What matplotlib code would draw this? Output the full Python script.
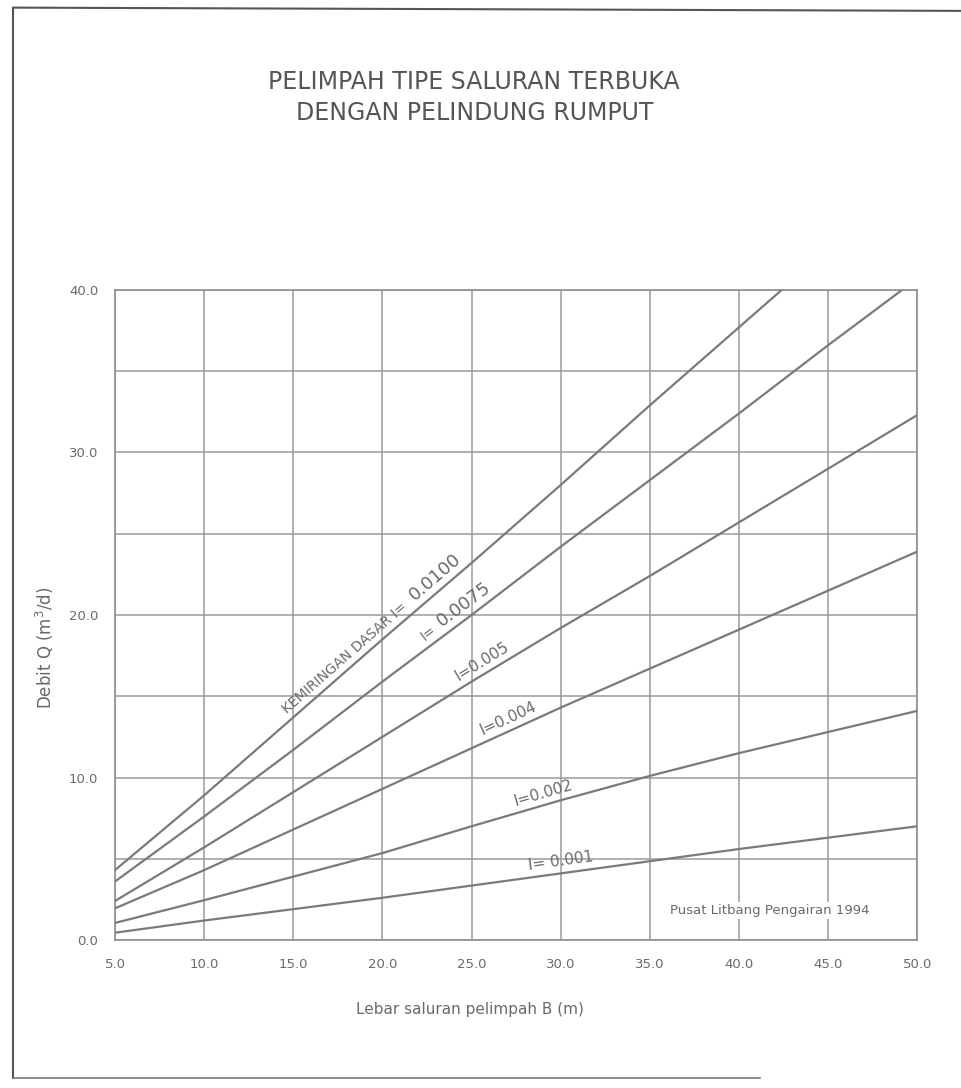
import numpy as np
import matplotlib.pyplot as plt
from matplotlib.lines import Line2D

# lebar saluran B (m)
lebar = [5, 10, 15, 20, 25, 30, 35, 40, 45, 50]

# debit Q per kemiringan dasar I
q_0100 = [4.3, 8.9, 13.7, 18.5, 23.2, 28.0, 32.9, 37.7, 42.5, 47.3]
q_0075 = [3.6, 7.6, 11.7, 15.9, 20.0, 24.2, 28.3, 32.4, 36.6, 40.7]
q_0050 = [2.4, 5.7, 9.1, 12.5, 15.9, 19.2, 22.4, 25.7, 29.0, 32.3]
q_0040 = [1.95, 4.3, 6.8, 9.3, 11.8, 14.3, 16.7, 19.1, 21.5, 23.9]
q_0020 = [1.05, 2.45, 3.9, 5.35, 7.0, 8.6, 10.1, 11.5, 12.8, 14.1]
q_0010 = [0.45, 1.2, 1.9, 2.6, 3.35, 4.1, 4.85, 5.6, 6.3, 7.0]

x_ticks = [5, 10, 15, 20, 25, 30, 35, 40, 45, 50]
y_ticks = [0, 5, 10, 15, 20, 25, 30, 35, 40]

txt = '#6a6a6a'

fig = plt.figure(figsize=(9.62, 10.88), dpi=100)
ax = fig.add_axes([0.1195, 0.136, 0.834, 0.5975])

curves = [q_0100, q_0075, q_0050, q_0040, q_0020, q_0010]
for q in curves:
  ax.plot(lebar, q, color='#7a7a7a', lw=1.6, zorder=3)

ax.set_xlim(5, 50)
ax.set_ylim(0, 40)
ax.set_xticks(x_ticks)
ax.set_xticklabels(['%.1f' % v for v in x_ticks])
ax.set_yticks(y_ticks)
ax.set_yticklabels(['%.1f' % v if v % 10 == 0 else '' for v in y_ticks])
ax.grid(True, color='#9a9a9a', lw=1.1, zorder=0)
ax.tick_params(length=0, colors=txt, labelsize=9.5)
ax.tick_params(axis='x', pad=13)
ax.tick_params(axis='y', pad=12)
for s in ax.spines.values():
  s.set_color('#8f8f8f')
  s.set_linewidth(1.2)

def angle_at(q, x):
  p1 = ax.transData.transform((x, np.interp(x, lebar, q)))
  p2 = ax.transData.transform((x + 1, np.interp(x + 1, lebar, q)))
  return np.degrees(np.arctan2(p2[1] - p1[1], p2[0] - p1[0]))

def label(q, x, s, size, off=3):
  a = angle_at(q, x)
  ax.annotate(s, xy=(x, np.interp(x, lebar, q)), xytext=(-off * np.sin(np.radians(a)), off * np.cos(np.radians(a))),
              textcoords='offset points', rotation=a, rotation_mode='anchor',
              ha='left', va='bottom', fontsize=size, color=txt, zorder=4)

label(q_0100, 14.9, 'KEMIRINGAN DASAR I=', 10)
label(q_0100, 22.1, '0.0100', 13)
label(q_0075, 22.6, 'I=', 10)
label(q_0075, 23.6, '0.0075', 13)
label(q_0050, 24.5, 'I=0.005', 11)
label(q_0040, 25.8, 'I=0.004', 11)
label(q_0020, 27.6, 'I=0.002', 11)
label(q_0010, 28.3, 'I= 0.001', 11)

ax.text(0.941, 0.046, 'Pusat Litbang Pengairan 1994', transform=ax.transAxes,
        ha='right', va='center', fontsize=9.5, color=txt, zorder=5,
        bbox=dict(facecolor='white', edgecolor='none', pad=1.5))

fig.text(0.493, 0.925, 'PELIMPAH TIPE SALURAN TERBUKA', ha='center', va='center', fontsize=17, color='#555555')
fig.text(0.493, 0.896, 'DENGAN PELINDUNG RUMPUT', ha='center', va='center', fontsize=17, color='#555555')
fig.text(0.047, 0.405, 'Debit Q (m$^3$/d)', rotation=90, ha='center', va='center', fontsize=12, color=txt)
fig.text(0.489, 0.072, 'Lebar saluran pelimpah B (m)', ha='center', va='center', fontsize=11, color=txt)

# bingkai halaman
fig.add_artist(Line2D([0.0135, 0.0135], [0.009, 0.993], color='#555555', lw=1.5))
fig.add_artist(Line2D([0.0135, 1.0], [0.993, 0.990], color='#555555', lw=1.5))
fig.add_artist(Line2D([0.0135, 0.79], [0.009, 0.009], color='#777777', lw=1.2))

fig.savefig('out.png', dpi=100)
